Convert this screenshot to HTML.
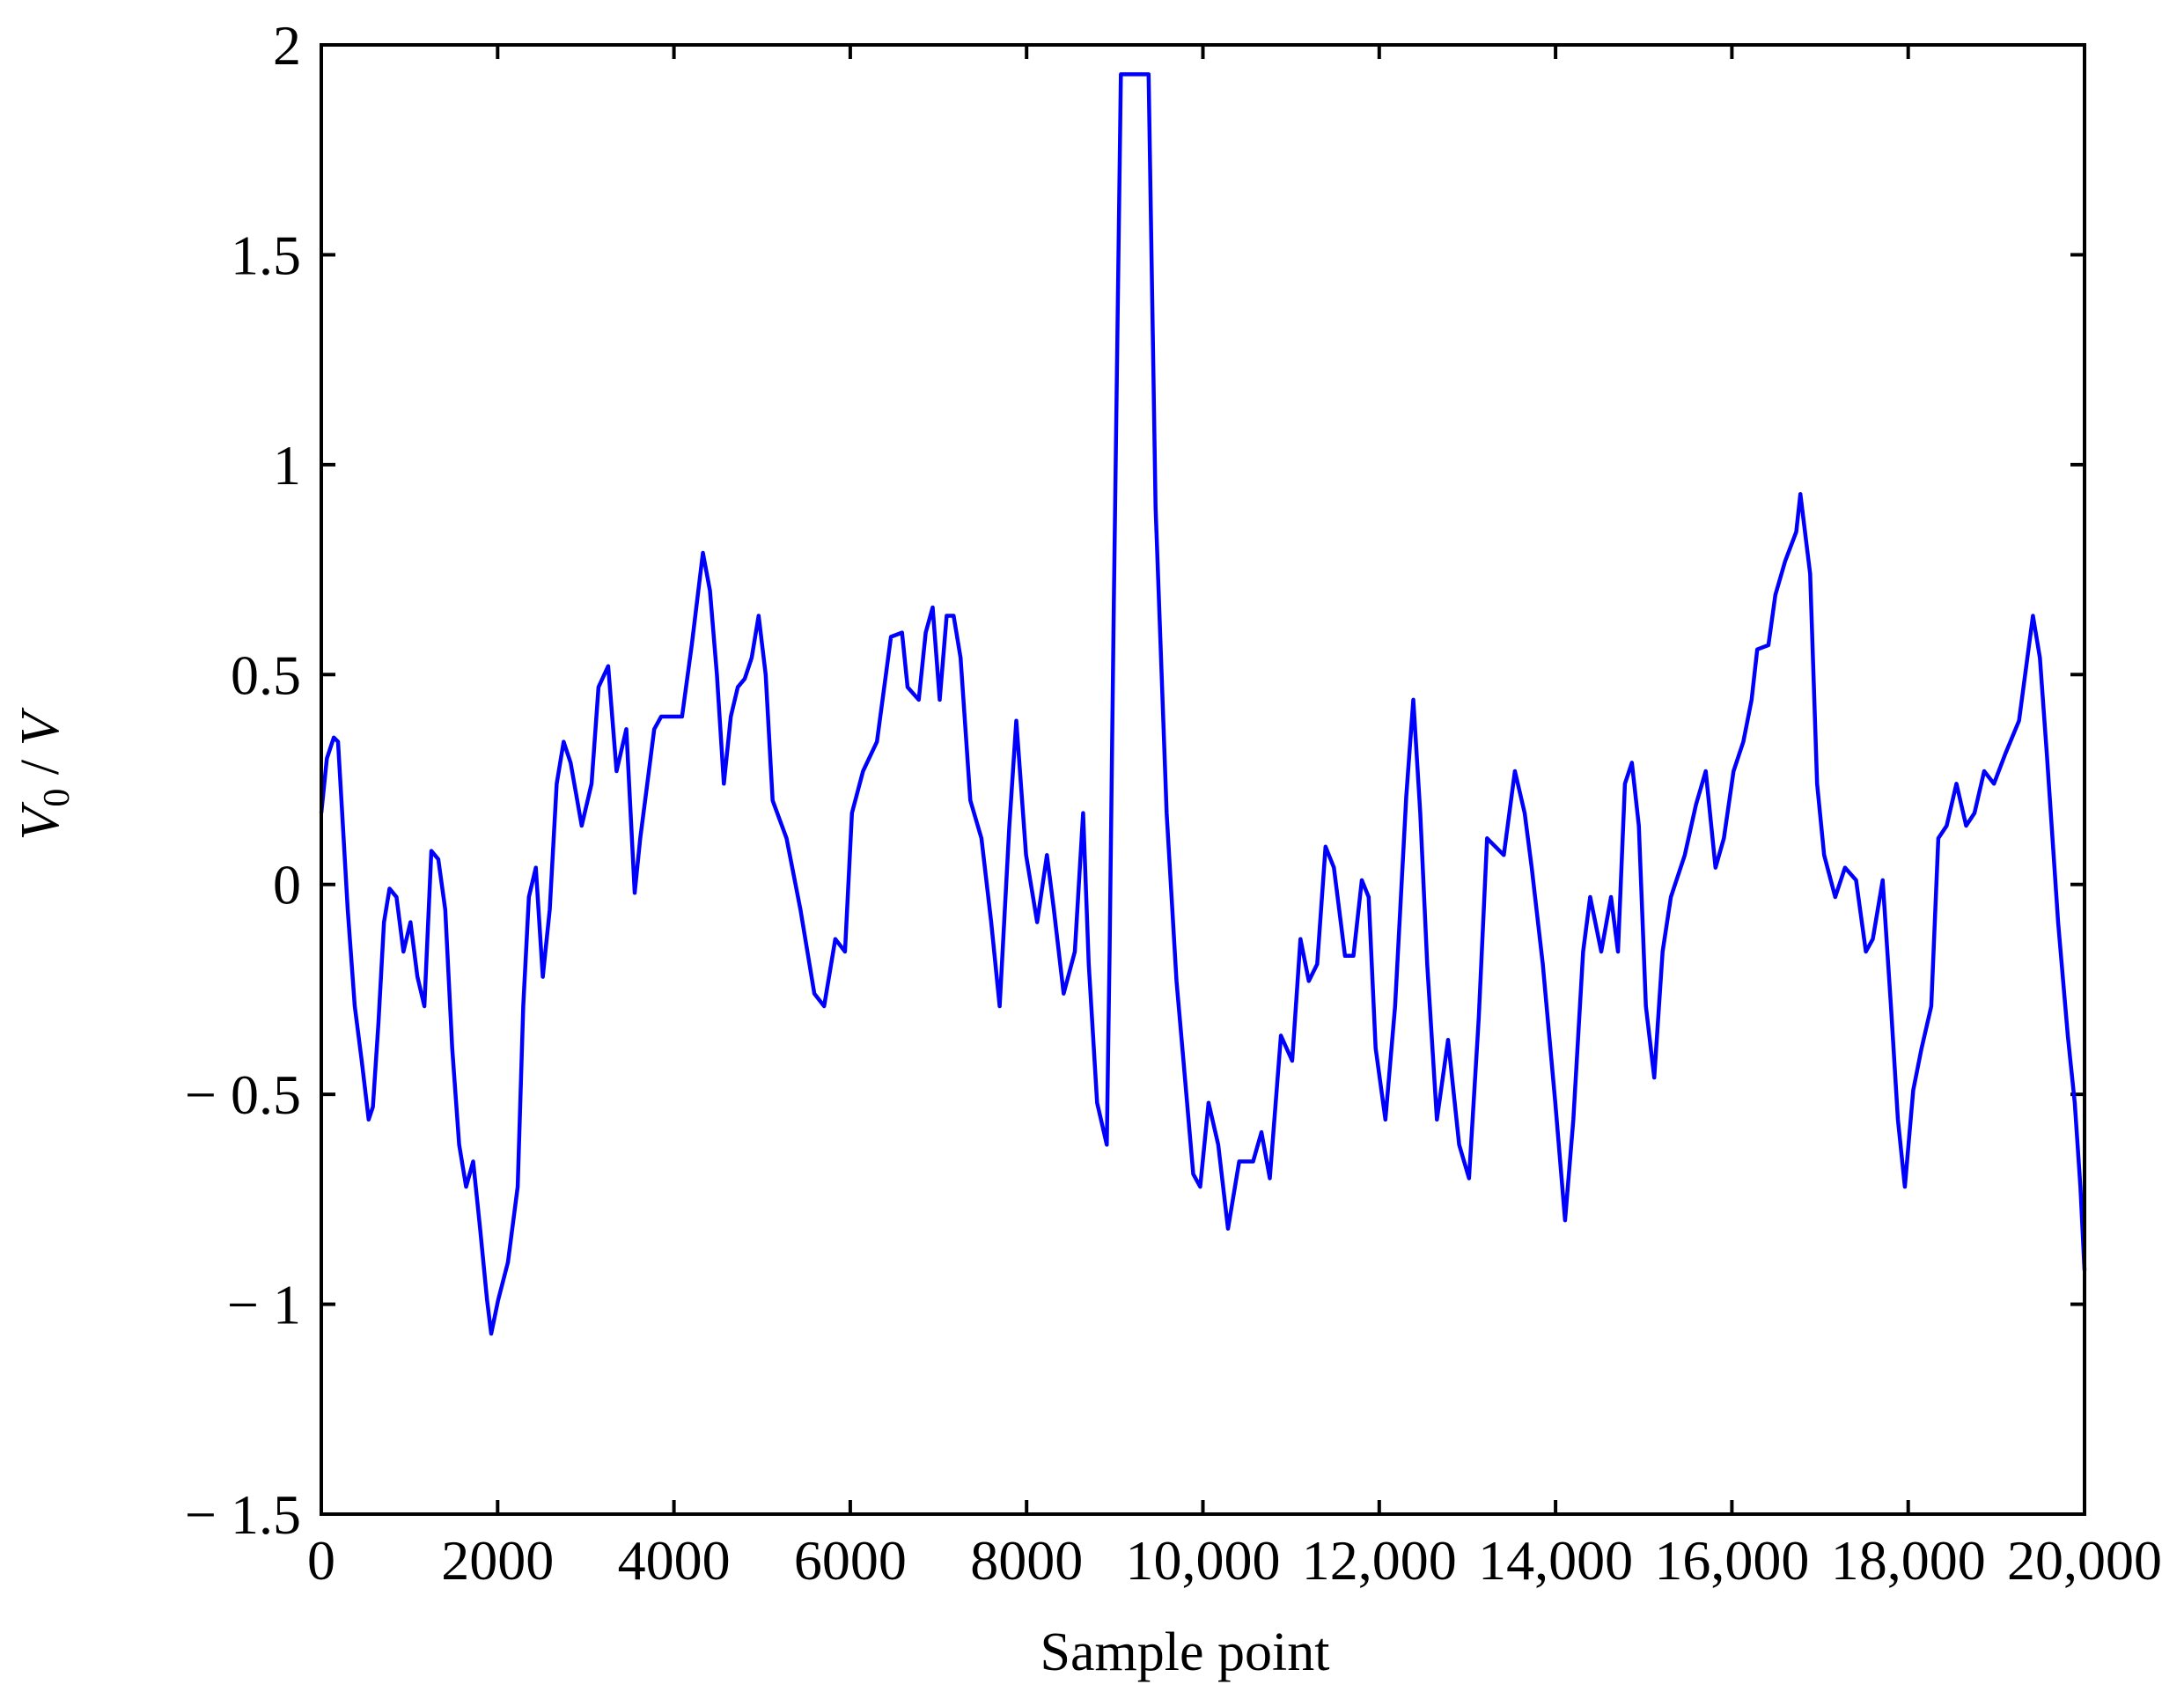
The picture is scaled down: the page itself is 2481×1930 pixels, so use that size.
<!DOCTYPE html>
<html><head><meta charset="utf-8"><style>
html,body{margin:0;padding:0;background:#fff}
svg{display:block}
text{font-family:"Liberation Serif",serif;fill:#000}
</style></head><body>
<svg id="chart" width="2481" height="1930" viewBox="0 0 2481 1930" xmlns="http://www.w3.org/2000/svg">
<g id="ticks"></g>
<polyline id="series" fill="none" stroke="#0000ff" stroke-width="4.5" stroke-linejoin="round"/>
<rect x="365" y="51" width="2003" height="1669" fill="none" stroke="#000" stroke-width="4"/>
<text x="1346" y="1897" font-size="62" text-anchor="middle">Sample point</text>
<text transform="translate(66,882) rotate(-90)" font-size="62" text-anchor="middle"><tspan font-style="italic">V</tspan><tspan font-size="42" dy="12">0</tspan><tspan dy="-12"> / </tspan><tspan font-style="italic">V</tspan></text>
</svg>
<script>
const samples=[0,63,142,190,237,300,379,458,537,585,648,711,774,853,932,1011,1090,1169,1248,1327,1406,1485,1564,1643,1722,1801,1880,1927,2006,2117,2228,2291,2354,2433,2512,2591,2670,2749,2828,2954,3065,3144,3254,3349,3460,3555,3618,3697,3776,3855,3934,4092,4202,4329,4408,4487,4566,4645,4724,4803,4882,4961,5040,5119,5277,5435,5593,5703,5830,5940,6019,6145,6303,6461,6587,6650,6777,6856,6935,7014,7093,7172,7251,7362,7488,7599,7694,7804,7883,7994,8073,8120,8231,8310,8420,8547,8641,8705,8800,8910,8942,8990,9069,9227,9384,9463,9589,9700,9779,9890,9969,10064,10174,10285,10411,10569,10664,10759,10885,11012,11106,11201,11296,11391,11486,11612,11707,11802,11880,11959,12070,12180,12307,12386,12465,12544,12654,12781,12907,13018,13128,13223,13413,13539,13650,13729,13855,13997,14108,14202,14313,14392,14518,14629,14708,14787,14866,14945,15024,15119,15214,15308,15466,15593,15703,15814,15909,16019,16130,16224,16288,16414,16493,16604,16730,16777,16888,16967,17046,17172,17283,17409,17520,17599,17710,17804,17883,17962,18057,18152,18262,18341,18436,18547,18657,18752,18862,18973,19099,19257,19415,19494,19573,19700,19810,19889,19953,20000];
const voltages=[0.17,0.30,0.35,0.34,0.17,-0.06,-0.29,-0.42,-0.56,-0.53,-0.33,-0.09,-0.01,-0.03,-0.16,-0.09,-0.22,-0.29,0.08,0.06,-0.06,-0.39,-0.62,-0.72,-0.66,-0.82,-0.99,-1.07,-0.99,-0.90,-0.72,-0.29,-0.03,0.04,-0.22,-0.06,0.24,0.34,0.29,0.14,0.24,0.47,0.52,0.27,0.37,-0.02,0.11,0.24,0.37,0.40,0.40,0.40,0.57,0.79,0.70,0.50,0.24,0.40,0.47,0.49,0.54,0.64,0.50,0.20,0.11,-0.06,-0.26,-0.29,-0.13,-0.16,0.17,0.27,0.34,0.59,0.60,0.47,0.44,0.60,0.66,0.44,0.64,0.64,0.54,0.20,0.11,-0.09,-0.29,0.14,0.39,0.07,-0.03,-0.09,0.07,-0.06,-0.26,-0.16,0.17,-0.19,-0.52,-0.62,-0.16,0.67,1.93,1.93,1.93,0.90,0.17,-0.23,-0.42,-0.69,-0.72,-0.52,-0.62,-0.82,-0.66,-0.66,-0.59,-0.70,-0.36,-0.42,-0.13,-0.23,-0.19,0.09,0.04,-0.17,-0.17,0.01,-0.03,-0.39,-0.56,-0.29,0.21,0.44,0.17,-0.19,-0.56,-0.37,-0.62,-0.70,-0.32,0.11,0.07,0.27,0.17,0.04,-0.19,-0.52,-0.80,-0.56,-0.16,-0.03,-0.16,-0.03,-0.16,0.24,0.29,0.14,-0.29,-0.46,-0.16,-0.03,0.07,0.19,0.27,0.04,0.11,0.27,0.34,0.44,0.56,0.57,0.69,0.77,0.84,0.93,0.74,0.24,0.07,-0.03,0.04,0.01,-0.16,-0.13,0.01,-0.29,-0.56,-0.72,-0.49,-0.39,-0.29,0.11,0.14,0.24,0.14,0.17,0.27,0.24,0.31,0.39,0.64,0.54,0.31,-0.09,-0.36,-0.52,-0.72,-0.92];
const xTicks=[0,2000,4000,6000,8000,10000,12000,14000,16000,18000,20000];
const xTickLabels=["0","2000","4000","6000","8000","10,000","12,000","14,000","16,000","18,000","20,000"];
const yTicks=[2,1.5,1,0.5,0,-0.5,-1,-1.5];
const yTickLabels=["2","1.5","1","0.5","0","\u2212 0.5","\u2212 1","\u2212 1.5"];
const L=365,R=2368,T=51,B=1720;
const xs=v=>L+(v-0)/(20000-0)*(R-L);
const ys=v=>T+(2-v)/(2-(-1.5))*(B-T);
const NS="http://www.w3.org/2000/svg";
const g=document.getElementById('ticks');
function mk(tag,attrs){const e=document.createElementNS(NS,tag);for(const k in attrs)e.setAttribute(k,attrs[k]);return e;}
xTicks.forEach((t,i)=>{
  const x=xs(t);
  const a=mk('line',{x1:x,x2:x,y1:B,y2:B-16,stroke:'#000','stroke-width':4});
  
  
  g.appendChild(a);
  const b=mk('line',{x1:x,x2:x,y1:T,y2:T+16,stroke:'#000','stroke-width':4});
  
  
  g.appendChild(b);
  const tx=mk('text',{x:x,y:1794,'font-size':64,'text-anchor':'middle'});
  
  
  tx.textContent=xTickLabels[i];g.appendChild(tx);
});
yTicks.forEach((t,i)=>{
  const y=ys(t);
  const a=mk('line',{x1:L,x2:L+16,y1:y,y2:y,stroke:'#000','stroke-width':4});
  
  
  g.appendChild(a);
  const b=mk('line',{x1:R,x2:R-16,y1:y,y2:y,stroke:'#000','stroke-width':4});
  
  
  g.appendChild(b);
  const tx=mk('text',{x:342,y:y+22,'font-size':64,'text-anchor':'end'});
  
  
  tx.textContent=yTickLabels[i];g.appendChild(tx);
});
document.getElementById('series').setAttribute('points',samples.map((s,i)=>xs(s).toFixed(1)+','+ys(voltages[i]).toFixed(1)).join(' '));
</script>
</body></html>
